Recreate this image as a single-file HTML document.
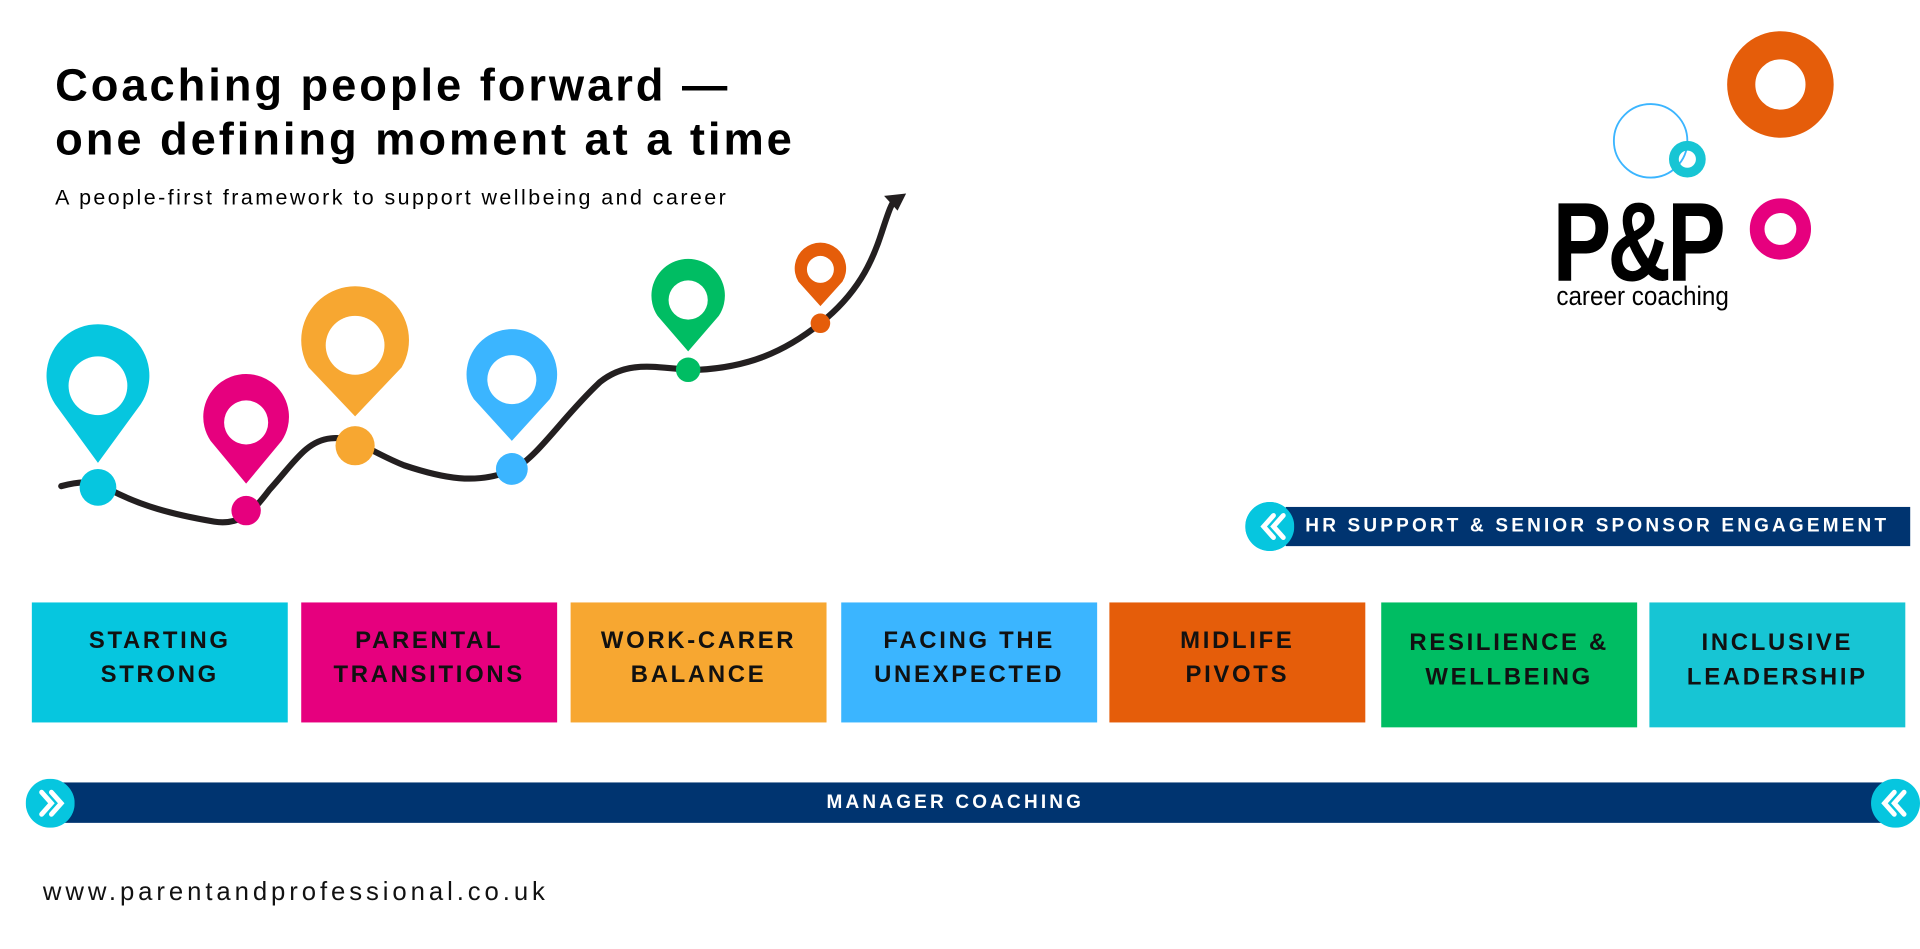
<!DOCTYPE html>
<html><head><meta charset="utf-8"><style>
html,body{margin:0;padding:0;background:#fff;overflow:hidden}
#w{width:1568px;height:775px;position:relative;transform:scale(1.22449);transform-origin:0 0;font-family:"Liberation Sans",sans-serif}
.t{position:absolute;white-space:nowrap}
.box{position:absolute;top:492px;width:209px;height:98px;display:flex;align-items:center;justify-content:center;text-align:center;font-weight:bold;font-size:19.5px;letter-spacing:2.2px;line-height:28px;color:#111;padding-bottom:8px;box-sizing:border-box}
.bar{position:absolute;background:#003470;color:#fff;font-weight:bold}
</style></head><body><div id="w">
<div class="t" style="left:45px;top:48px;font-size:37px;font-weight:bold;line-height:44px;letter-spacing:2.4px">Coaching people forward —<br>one defining moment at a time</div>
<div class="t" style="left:45px;top:151px;font-size:17.5px;letter-spacing:2px">A people-first framework to support wellbeing and career</div>

<svg style="position:absolute;left:0;top:0" width="1568" height="775">
<path d="M50,397 C65,393 75,392 90,400 C115,413 140,420 175,426 C195,429 205,420 220,400 C240,378 250,360 270,358 C290,356 300,368 330,380 C360,390 390,397 420,383 C440,372 460,340 490,312 C515,292 540,302 570,302 C610,300 640,288 670,264 C700,240 712,215 720,190 C725,175 728,165 732,162" fill="none" stroke="#231f20" stroke-width="5" stroke-linecap="round"/>
<path d="M722,160 L740,158 L733,172 Z" fill="#231f20"/>
<g>
<path d="M80,378 L45,330 A42,42 0 1 1 115,330 Z" fill="#06c6df"/><circle cx="80" cy="315" r="24" fill="#fff"/>
<path d="M201,395 L172,360 A35,35 0 1 1 230,360 Z" fill="#e6007e"/><circle cx="201" cy="345" r="18" fill="#fff"/>
<path d="M290,340 L252,300 A44,44 0 1 1 328,300 Z" fill="#f7a731"/><circle cx="290" cy="282" r="24" fill="#fff"/>
<path d="M418,360 L387,326 A37,37 0 1 1 449,326 Z" fill="#3bb5ff"/><circle cx="418" cy="310" r="20" fill="#fff"/>
<path d="M562,287 L537,258 A30,30 0 1 1 587,258 Z" fill="#00bd63"/><circle cx="562" cy="245" r="16" fill="#fff"/>
<path d="M670,250 L652,230 A21,21 0 1 1 688,230 Z" fill="#e55d0a"/><circle cx="670" cy="220" r="11" fill="#fff"/>
<circle cx="80" cy="398" r="15" fill="#06c6df"/>
<circle cx="201" cy="417" r="12" fill="#e6007e"/>
<circle cx="290" cy="364" r="16" fill="#f7a731"/>
<circle cx="418" cy="383" r="13" fill="#3bb5ff"/>
<circle cx="562" cy="302" r="10" fill="#00bd63"/>
<circle cx="670" cy="264" r="8" fill="#e55d0a"/>
</g>
<circle cx="1454" cy="69" r="32" fill="none" stroke="#e55d0a" stroke-width="23"/>
<circle cx="1348" cy="115" r="30" fill="none" stroke="#3bb5ff" stroke-width="1.5"/>
<circle cx="1378" cy="130" r="11" fill="none" stroke="#17c5d4" stroke-width="8"/>
<circle cx="1454" cy="187" r="19" fill="none" stroke="#e6007e" stroke-width="12"/>
<circle cx="1037" cy="430" r="20" fill="#06c6df"/>
<path d="M1040,421 L1032,430 L1040,439 M1048,421 L1040,430 L1048,439" stroke="#fff" stroke-width="4" fill="none" stroke-linecap="round"/>
</svg>

<div class="t" style="left:1268px;top:152px;font-size:92px;font-weight:bold;letter-spacing:-4px;transform:scaleX(0.78);transform-origin:0 0;line-height:92px">P&amp;P</div>
<div class="t" style="left:1271px;top:229px;font-size:22px;transform:scaleX(0.9);transform-origin:0 0">career coaching</div>

<div class="bar" style="left:1050px;top:414px;width:510px;height:32px;font-size:15.5px;line-height:32px;padding-left:16px;box-sizing:border-box;letter-spacing:2.6px">HR SUPPORT &amp; SENIOR SPONSOR ENGAGEMENT</div>
<svg style="position:absolute;left:1017px;top:410px" width="40" height="40"><circle cx="20" cy="20" r="20" fill="#06c6df"/><path d="M23,11 L15,20 L23,29 M31,11 L23,20 L31,29" stroke="#fff" stroke-width="4" fill="none" stroke-linecap="round"/></svg>

<div class="box" style="left:26px;background:#06c6df">STARTING<br>STRONG</div>
<div class="box" style="left:246px;background:#e6007e">PARENTAL<br>TRANSITIONS</div>
<div class="box" style="left:466px;background:#f7a731">WORK-CARER<br>BALANCE</div>
<div class="box" style="left:687px;background:#3bb5ff">FACING THE<br>UNEXPECTED</div>
<div class="box" style="left:906px;background:#e55d0a">MIDLIFE<br>PIVOTS</div>
<div class="box" style="left:1128px;background:#00bd63;height:102px">RESILIENCE &amp;<br>WELLBEING</div>
<div class="box" style="left:1347px;background:#17c5d4;height:102px">INCLUSIVE<br>LEADERSHIP</div>

<div class="bar" style="left:40px;top:639px;width:1506px;height:33px;font-size:15.5px;line-height:33px"><span style="position:absolute;left:635px;letter-spacing:2.6px">MANAGER COACHING</span></div>
<svg style="position:absolute;left:21px;top:636px" width="40" height="40"><circle cx="20" cy="20" r="20" fill="#06c6df"/><path d="M13,11 L21,20 L13,29 M21,11 L29,20 L21,29" stroke="#fff" stroke-width="4" fill="none" stroke-linecap="round"/></svg>
<svg style="position:absolute;left:1528px;top:636px" width="40" height="40"><circle cx="20" cy="20" r="20" fill="#06c6df"/><path d="M19,11 L11,20 L19,29 M27,11 L19,20 L27,29" stroke="#fff" stroke-width="4" fill="none" stroke-linecap="round"/></svg>

<div class="t" style="left:35px;top:717px;font-size:21px;letter-spacing:3.2px;color:#111">www.parentandprofessional.co.uk</div>
</div></body></html>
